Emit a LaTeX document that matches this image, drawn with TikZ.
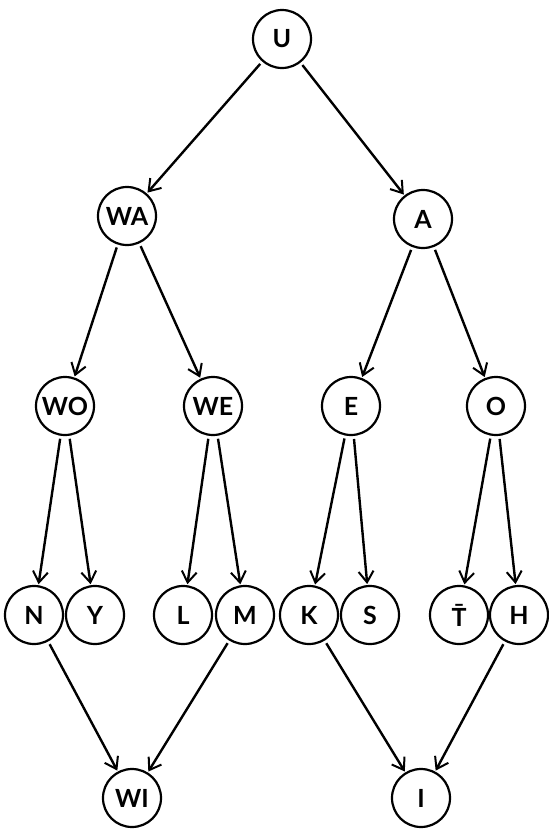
\documentclass[tikz,border=0pt]{standalone}
\usepackage{fontspec}
\setmainfont{Lato}
\usetikzlibrary{arrows.meta}
\begin{document}
\begin{tikzpicture}[x=1pt,y=-1pt,
  vtx/.style={circle,draw,line width=2.2pt,minimum size=58pt,inner sep=0pt,
    font=\fontsize{25}{25}\selectfont\bfseries},
  edge/.style={line width=2.4pt,
    -{Straight Barb[length=11pt,width=15pt,line width=2pt]},
    shorten <=3pt,shorten >=1pt}]
\useasboundingbox (0,0) rectangle (549,831);
\node[vtx] (U)  at (282,39)  {U};
\node[vtx] (WA) at (127,216) {WA};
\node[vtx] (A)  at (423,219) {A};
\node[vtx] (WO) at (65,406)  {WO};
\node[vtx] (WE) at (213,406) {WE};
\node[vtx] (E)  at (351,406) {E};
\node[vtx] (O)  at (496,406) {O};
\node[vtx] (N)  at (34,615)  {N};
\node[vtx] (Y)  at (95,615)  {Y};
\node[vtx] (L)  at (183,615) {L};
\node[vtx] (M)  at (245,615) {M};
\node[vtx] (K)  at (309,615) {K};
\node[vtx] (S)  at (370,615) {S};
\node[vtx] (T)  at (459,615) {T̄};
\node[vtx] (H)  at (519,615) {H};
\node[vtx] (WI) at (132,798) {WI};
\node[vtx] (I)  at (421,798) {I};
\draw[edge] (U) -- (WA);
\draw[edge] (U) -- (A);
\draw[edge] (WA) -- (WO);
\draw[edge] (WA) -- (WE);
\draw[edge] (A) -- (E);
\draw[edge] (A) -- (O);
\draw[edge] (WO) -- (N);
\draw[edge] (WO) -- (Y);
\draw[edge] (WE) -- (L);
\draw[edge] (WE) -- (M);
\draw[edge] (E) -- (K);
\draw[edge] (E) -- (S);
\draw[edge] (O) -- (T);
\draw[edge] (O) -- (H);
\draw[edge] (N) -- (WI);
\draw[edge] (M) -- (WI);
\draw[edge] (K) -- (I);
\draw[edge] (H) -- (I);
\end{tikzpicture}
\end{document}
